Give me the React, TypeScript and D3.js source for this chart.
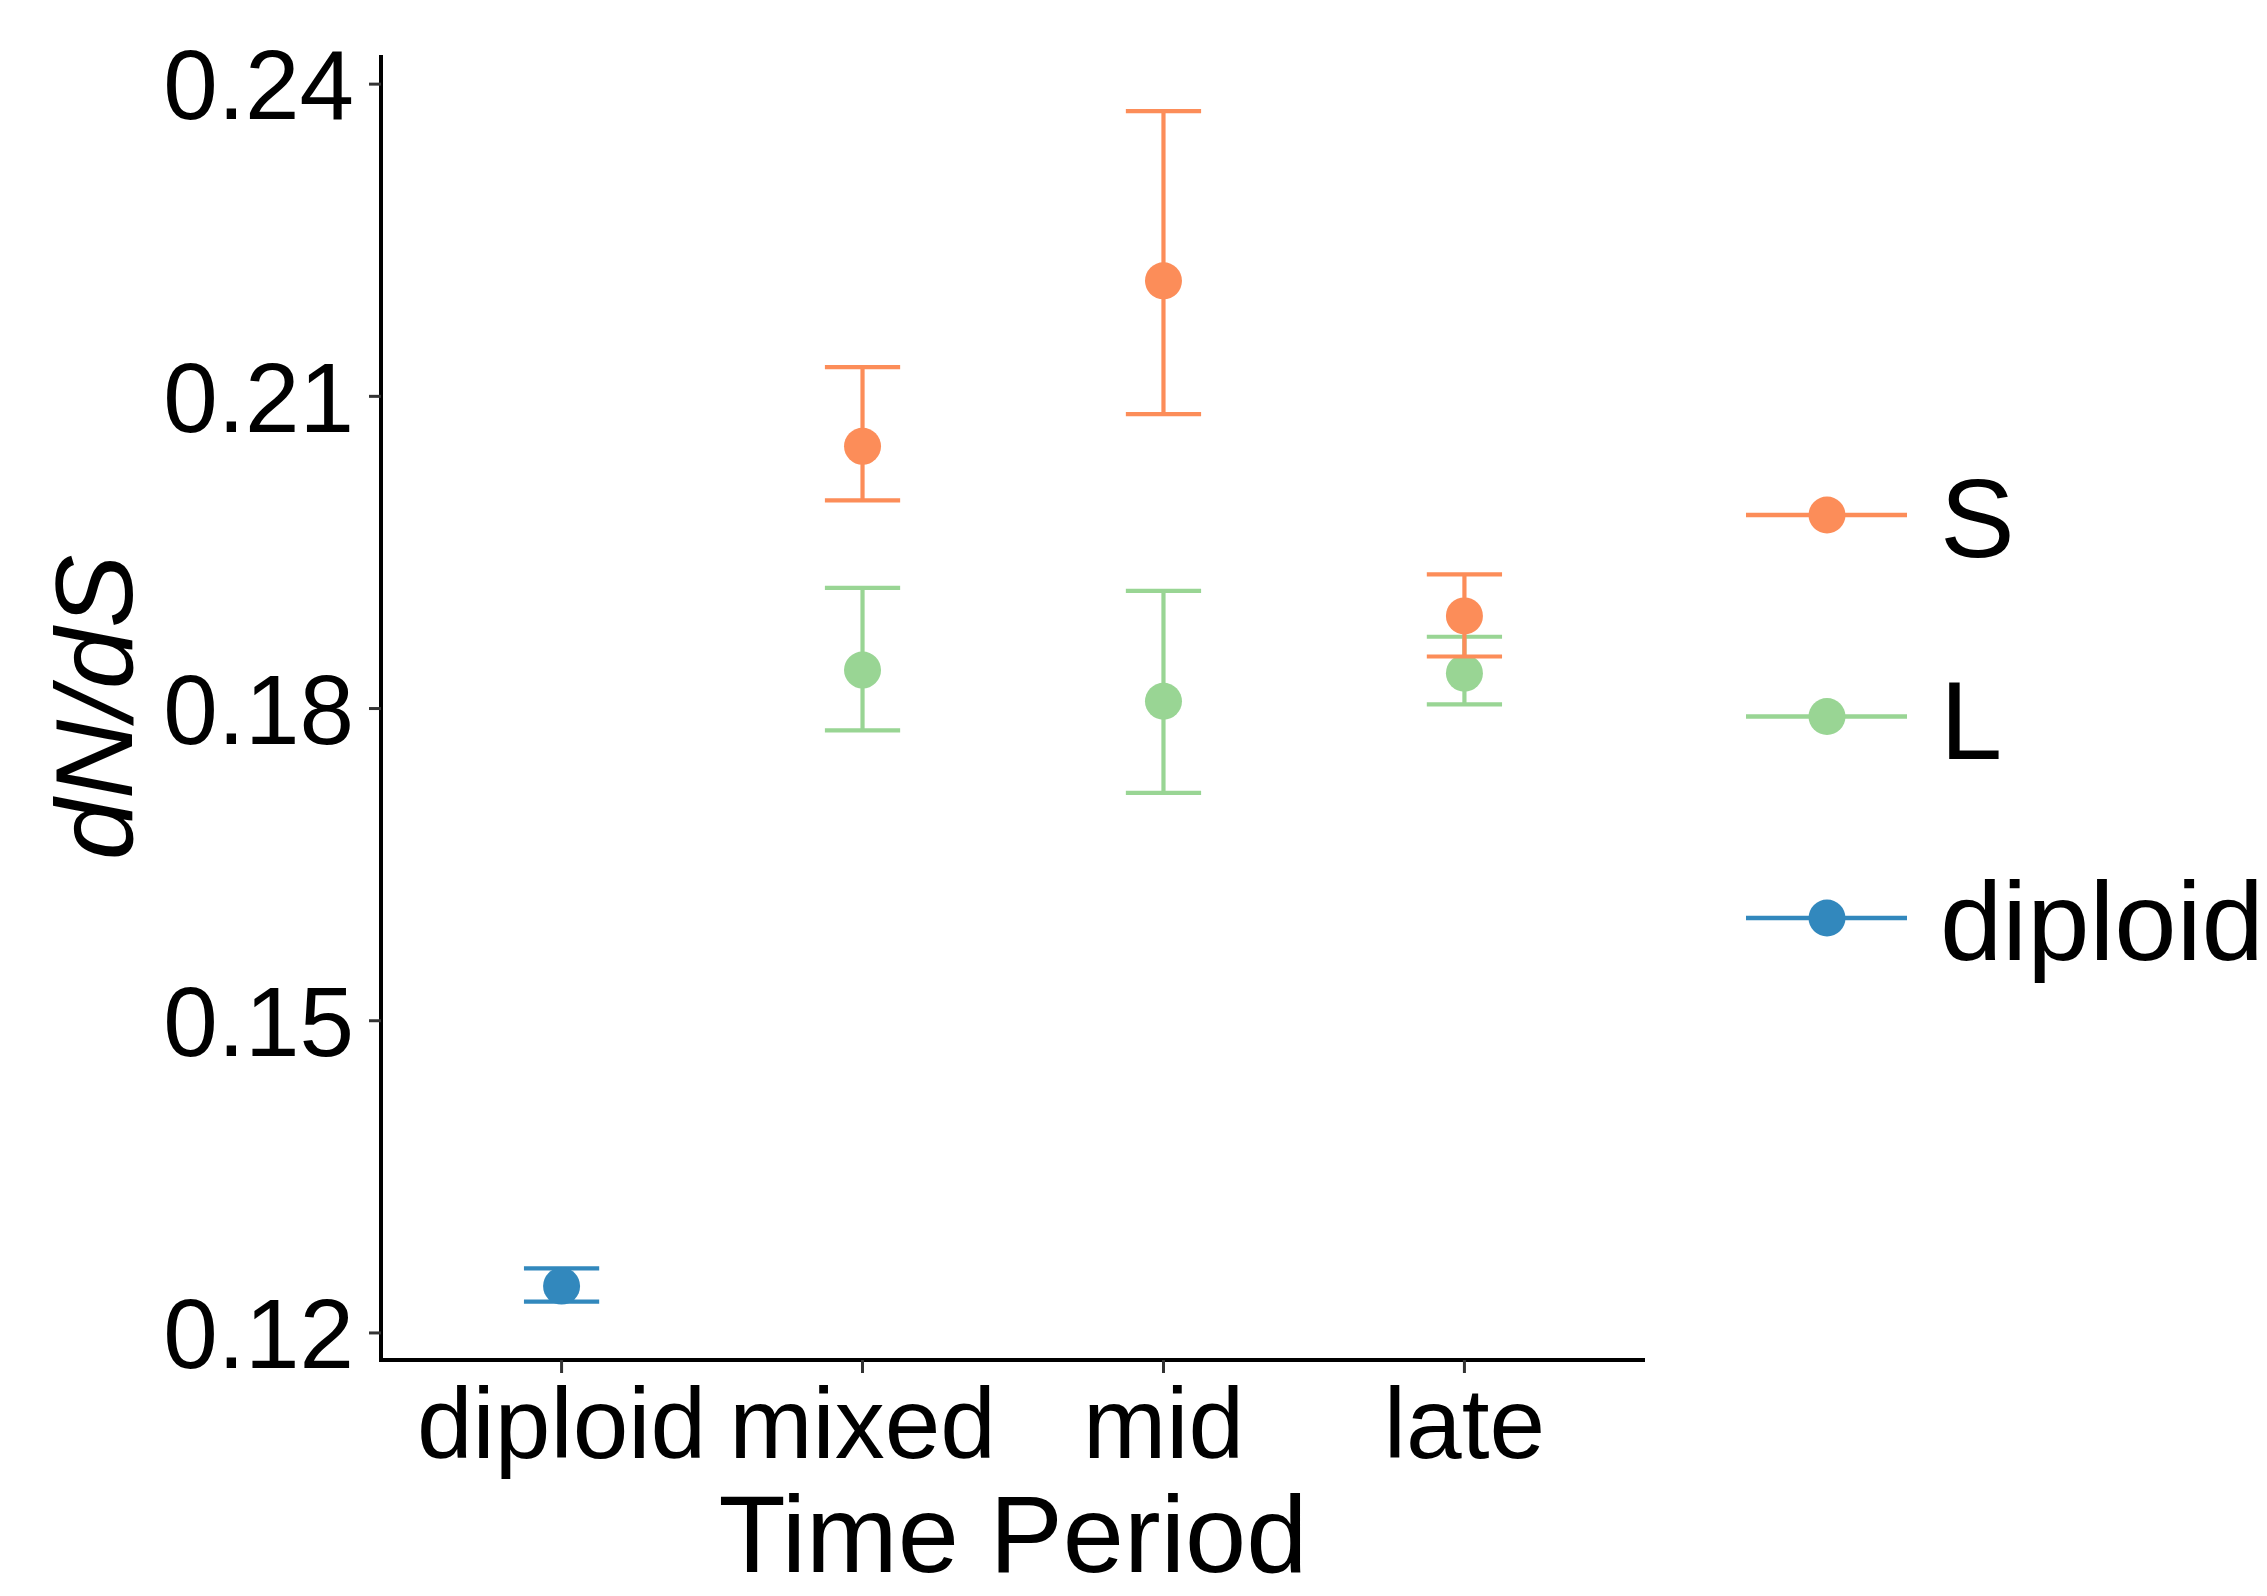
import * as d3 from "d3";

const W = 2267;
const H = 1596;
const PANEL = { left: 381, right: 1645, top: 55, bottom: 1360 };
const FONT = '"Liberation Sans", Arial, Helvetica, sans-serif';

const PERIODS = ["diploid", "mixed", "mid", "late"];
const Y_TICKS = [0.12, 0.15, 0.18, 0.21, 0.24];

// per-series values
const S_PERIODS = ["mixed", "mid", "late"];
const S_MEAN = [0.2052, 0.2211, 0.1889];
const S_LOW = [0.2, 0.2083, 0.185];
const S_HIGH = [0.2128, 0.2374, 0.1929];

const L_PERIODS = ["mixed", "mid", "late"];
const L_MEAN = [0.1837, 0.1807, 0.1834];
const L_LOW = [0.1779, 0.1719, 0.1804];
const L_HIGH = [0.1916, 0.1913, 0.1869];

const DIP_PERIODS = ["diploid"];
const DIP_MEAN = [0.1245];
const DIP_LOW = [0.123];
const DIP_HIGH = [0.1262];

const SERIES = [
  { name: "S", color: "#FC8D59", periods: S_PERIODS, mean: S_MEAN, low: S_LOW, high: S_HIGH },
  { name: "L", color: "#99D594", periods: L_PERIODS, mean: L_MEAN, low: L_LOW, high: L_HIGH },
  { name: "diploid", color: "#3288BD", periods: DIP_PERIODS, mean: DIP_MEAN, low: DIP_LOW, high: DIP_HIGH },
];

// draw order: back to front
const DRAW_ORDER = ["diploid", "L", "S"];

export default function App() {
  const x = d3
    .scalePoint<string>()
    .domain(PERIODS)
    .range([PANEL.left, PANEL.right])
    .padding(0.6);
  const y = d3.scaleLinear().domain([0.1174, 0.2428]).range([PANEL.bottom, PANEL.top]);

  const capHalf = (x.step() * 0.25) / 2;
  const R = 18.5;
  const SW = 4.2;

  const legendY = d3.scaleLinear().domain([0, 1]).range([515, 716.5]);

  return (
    <svg
      width={W}
      height={H}
      style={{ position: "absolute", left: 0, top: 0, background: "#fff" }}
      fontFamily={FONT}
    >
      <rect width={W} height={H} fill="#fff" />

      {/* data */}
      {DRAW_ORDER.map((nm) => {
        const s = SERIES.find((d) => d.name === nm)!;
        return (
          <g key={nm}>
            {s.periods.map((p, i) => {
              const cx = x(p)!;
              return (
                <g key={p}>
                  <line x1={cx} x2={cx} y1={y(s.low[i])} y2={y(s.high[i])} stroke={s.color} strokeWidth={SW} />
                  <line x1={cx - capHalf} x2={cx + capHalf} y1={y(s.low[i])} y2={y(s.low[i])} stroke={s.color} strokeWidth={SW} />
                  <line x1={cx - capHalf} x2={cx + capHalf} y1={y(s.high[i])} y2={y(s.high[i])} stroke={s.color} strokeWidth={SW} />
                  <circle cx={cx} cy={y(s.mean[i])} r={R} fill={s.color} />
                </g>
              );
            })}
          </g>
        );
      })}

      {/* y axis */}
      <line x1={PANEL.left} x2={PANEL.left} y1={PANEL.top} y2={PANEL.bottom + 2} stroke="#000" strokeWidth={4} />
      {Y_TICKS.map((t) => (
        <g key={t}>
          <line x1={PANEL.left - 12} x2={PANEL.left} y1={y(t)} y2={y(t)} stroke="#333" strokeWidth={3} />
          <text x={354} y={y(t)} dy="0.36em" textAnchor="end" fontSize={98} fill="#000">
            {t.toFixed(2)}
          </text>
        </g>
      ))}

      {/* x axis */}
      <line x1={PANEL.left - 2} x2={PANEL.right} y1={PANEL.bottom} y2={PANEL.bottom} stroke="#000" strokeWidth={4} />
      {PERIODS.map((p) => (
        <g key={p}>
          <line x1={x(p)} x2={x(p)} y1={PANEL.bottom} y2={PANEL.bottom + 13} stroke="#333" strokeWidth={3} />
          <text x={x(p)} y={1458} textAnchor="middle" fontSize={100} fill="#000">
            {p}
          </text>
        </g>
      ))}

      {/* axis titles */}
      <text x={(PANEL.left + PANEL.right) / 2} y={1572} textAnchor="middle" fontSize={110} fill="#000">
        Time Period
      </text>
      <text
        transform={`translate(132,${(PANEL.top + PANEL.bottom) / 2}) rotate(-90)`}
        textAnchor="middle"
        fontSize={110}
        fontStyle="italic"
        fill="#000"
      >
        dN/dS
      </text>

      {/* legend */}
      {SERIES.map((s, i) => {
        const ly = legendY(i);
        return (
          <g key={s.name}>
            <line x1={1746} x2={1907} y1={ly} y2={ly} stroke={s.color} strokeWidth={4.5} />
            <circle cx={1827} cy={ly} r={R} fill={s.color} />
            <text x={1940} y={ly + 42} fontSize={112} fill="#000">
              {s.name}
            </text>
          </g>
        );
      })}
    </svg>
  );
}
